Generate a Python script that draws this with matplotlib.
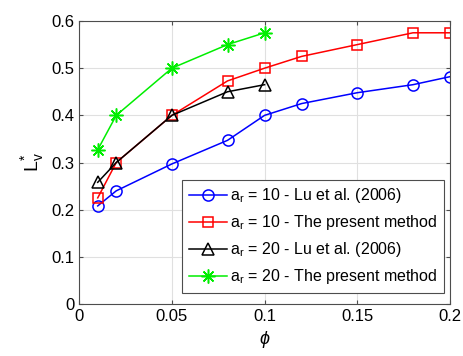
import matplotlib

matplotlib.use("Agg")
import matplotlib.pyplot as plt

plt.rcParams["font.family"] = ["Liberation Sans", "DejaVu Sans"]
plt.rcParams["mathtext.fontset"] = "custom"
plt.rcParams["mathtext.rm"] = "Liberation Sans"
plt.rcParams["mathtext.it"] = "Liberation Sans:italic"

phi_full = [0.01, 0.02, 0.05, 0.08, 0.1, 0.12, 0.15, 0.18, 0.2]
phi_short = [0.01, 0.02, 0.05, 0.08, 0.1]
lu_10 = [0.208, 0.240, 0.297, 0.347, 0.400, 0.425, 0.448, 0.465, 0.482]
present_10 = [0.225, 0.300, 0.400, 0.473, 0.500, 0.525, 0.550, 0.575, 0.575]
lu_20 = [0.258, 0.300, 0.400, 0.450, 0.465]
present_20 = [0.327, 0.400, 0.500, 0.550, 0.575]

fig = plt.figure(figsize=(4.63, 3.56), dpi=100)
ax = fig.add_axes([0.171, 0.146, 0.801, 0.795])

ax.plot(phi_full, lu_10, "-o", color="blue", mfc="none", ms=8, mew=1.1, lw=1.1,
        label=r"a$_\mathregular{r}$ = 10 - Lu et al. (2006)")
ax.plot(phi_full, present_10, "-s", color="red", mfc="none", ms=7.5, mew=1.1, lw=1.1,
        label=r"a$_\mathregular{r}$ = 10 - The present method")
ax.plot(phi_short, lu_20, "-^", color="black", mfc="none", ms=9, mew=1.1, lw=1.1,
        label=r"a$_\mathregular{r}$ = 20 - Lu et al. (2006)")
ax.plot(phi_short, present_20, "-", marker=(8, 2, 0), color="#00ee00", ms=10, mew=1.1, lw=1.1,
        label=r"a$_\mathregular{r}$ = 20 - The present method")

ax.set_xlim(0, 0.2)
ax.set_ylim(0, 0.6)
ax.set_xticks([0, 0.05, 0.1, 0.15, 0.2])
ax.set_xticklabels(["0", "0.05", "0.1", "0.15", "0.2"])
ax.set_yticks([0, 0.1, 0.2, 0.3, 0.4, 0.5, 0.6])
ax.set_yticklabels(["0", "0.1", "0.2", "0.3", "0.4", "0.5", "0.6"])
ax.grid(True, color="0.88", linewidth=0.8)
ax.set_axisbelow(True)
ax.tick_params(direction="in", top=True, right=True, labelsize=12, length=3, color="0.3")
for s in ax.spines.values():
    s.set_color("0.3")
    s.set_linewidth(0.8)

ax.set_xlabel(r"$\phi$", fontsize=13)
ax.set_ylabel(r"$\mathregular{L}^{*}_{\mathregular{v}}$", fontsize=14)

leg = ax.legend(loc="lower right", fontsize=11.5, fancybox=False, framealpha=1,
                edgecolor="0.3", handlelength=2.4, borderpad=0.4, labelspacing=0.5,
                handletextpad=0.2, borderaxespad=0, bbox_to_anchor=(0.984, 0.04))
leg.get_frame().set_linewidth(0.8)

fig.savefig("out.png", dpi=100)
